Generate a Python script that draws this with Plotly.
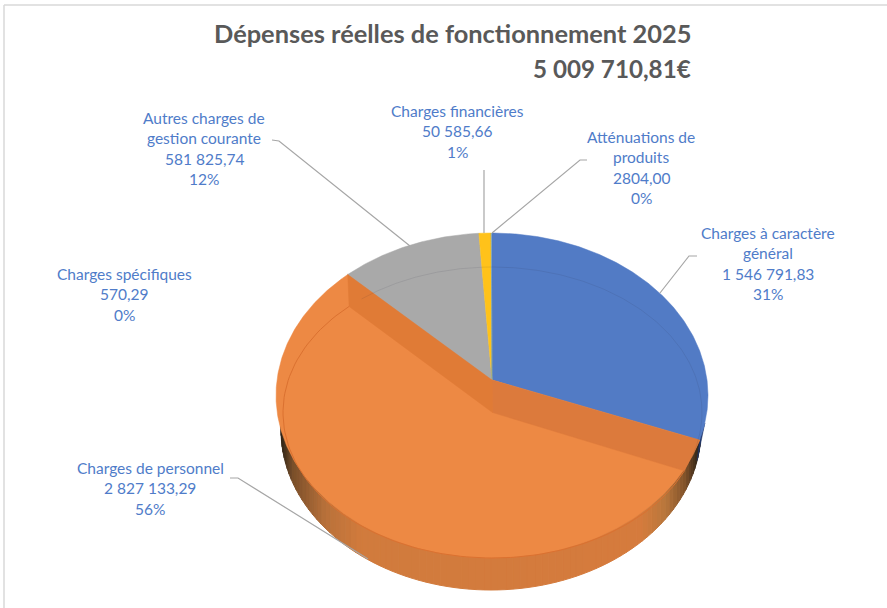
import numpy as np
import plotly.graph_objects as go

# ---- data ----
categories = ["Charges à caractère général", "Charges de personnel", "Charges spécifiques",
              "Autres charges de gestion courante", "Charges financières", "Atténuations de produits"]
values = [1546791.83, 2827133.29, 570.29, 581825.74, 50585.66, 2804.00]
colors = ["#527BC5", "#ED8944", "#A5A5A5", "#A9A9A9", "#FFC21A", "#5B9BD5"]
value_labels = ["1 546 791,83", "2 827 133,29", "570,29", "581 825,74", "50 585,66", "2804,00"]
pct_labels = ["31%", "56%", "0%", "12%", "1%", "0%"]
label_lines = [["Charges à caractère", "général"], ["Charges de personnel"], ["Charges spécifiques"],
               ["Autres charges de", "gestion courante"], ["Charges financières"], ["Atténuations de", "produits"]]

# ---- layout constants (pixels) ----
W, H = 887, 608
CX, CY, A, B, K = 492, 380, 215, 161, 0.0953      # top face, perspective
IX, IY, IA, IB, ITWIST = 492.5, 412.5, 209.5, 145.5, 2.5  # inner face
BX, BY, BA, BB = 491, 430, 210, 160               # bottom edge
label_pos = [(768, 233), (150, 468), (124, 274), (204, 118), (457, 111), (641, 137)]
LH = 20.4
TXT = "#4F7CC9"
FONT = "Lato"

total = sum(values)
edges = np.concatenate([[0], np.cumsum(values)]) / total * 360


def outer(t):
    t = np.radians(t)
    u, v = np.sin(t), np.cos(t)
    d = 1 + K * v
    return CX + A * u / d, CY - B * v / d


def inner(t):
    t = np.radians(t + ITWIST)
    return IX + IA * np.sin(t), IY - IB * np.cos(t)


def poly(xs, ys, color, width=0.5):
    return go.Scatter(x=list(xs), y=list(ys), mode="lines", fill="toself", fillcolor=color,
                      line=dict(color=color, width=width), hoverinfo="skip", showlegend=False)


def arc(fn, a, b, n=120):
    return fn(np.linspace(a, b, n))


fig = go.Figure()

# side wall with shading
stops_x = [281, 292, 325, 360, 640, 665, 685, 698]
stops_c = [(46, 36, 24), (122, 79, 42), (185, 113, 58), (209, 123, 61),
           (214, 124, 61), (185, 119, 60), (128, 82, 42), (46, 36, 24)]
phi = np.radians(np.linspace(0, 180, 91))
for p0, p1 in zip(phi[:-1], phi[1:]):
    x0, x1 = BX + BA * np.cos(p0), BX + BA * np.cos(p1)
    y0, y1 = BY + BB * np.sin(p0), BY + BB * np.sin(p1)
    xm = (x0 + x1) / 2
    c = [int(np.interp(xm, stops_x, [s[i] for s in stops_c])) for i in range(3)]
    col = f"rgb({c[0]},{c[1]},{c[2]})"
    fig.add_trace(poly([x0, x1, x1, x0, x0], [y0, y1, y1 - 45, y0 - 45, y0], col, 1))

# dark blue edge of the first slice, at its lower end
bx0, by0 = outer(edges[1] - 6)
bx1, by1 = outer(edges[1])
sl = np.radians(11)
fig.add_trace(poly([bx0, bx1, BX + BA * np.cos(sl), bx0], [by0, by1, BY + BB * np.sin(sl), by0], "#20376B"))

# wedges on the top level
for i, col in enumerate(colors):
    xs, ys = arc(outer, edges[i], edges[i + 1], max(3, int(edges[i + 1] - edges[i]) * 2))
    fig.add_trace(poly([CX, *xs, CX], [CY, *ys, CY], col))

# darker walls of the sunken slice
a_end, o_end = edges[1], edges[2]
for t, col in [(a_end, "#DC7A3C"), (o_end, "#E07B36")]:
    ox, oy = outer(t)
    ix, iy = inner(t)
    fig.add_trace(poly([CX, ox, ix, IX, CX], [CY, oy, iy, IY, CY], col))

# faint inner arcs
xs, ys = arc(inner, a_end, o_end)
fig.add_trace(go.Scatter(x=xs, y=ys, mode="lines", line=dict(color="#DB7130", width=1),
                         hoverinfo="skip", showlegend=False))
for a0, a1 in [(0 - ITWIST, a_end - ITWIST - 1), (o_end + ITWIST + 2, 360 - ITWIST)]:
    xs, ys = arc(inner, a0, a1)
    fig.add_trace(go.Scatter(x=xs, y=ys, mode="lines", line=dict(color="rgba(40,40,60,0.10)", width=1),
                             hoverinfo="skip", showlegend=False))

# leader lines and frame
leaders = ["M697,256 L689,256 L660,293", "M230,478 L238,478 L368,559", "M272,140 L279,141 L410,246",
           "M484,170 L484,233", "M587,160 L580,160 L492,233"]
shapes = [dict(type="path", path=p, line=dict(color="#A6A6A6", width=1.2), layer="above") for p in leaders]
shapes += [dict(type="line", x0=4, x1=4, y0=5, y1=H, line=dict(color="#D9D9D9", width=1.5), layer="below"),
           dict(type="line", x0=4, x1=W, y0=5, y1=5, line=dict(color="#D9D9D9", width=1.5), layer="below")]

# text labels
annotations = []
for i, (lx, ly) in enumerate(label_pos):
    lines = label_lines[i] + [value_labels[i], pct_labels[i]]
    for j, t in enumerate(lines):
        annotations.append(dict(x=lx, y=ly + j * LH, text=t, showarrow=False, xref="x", yref="y",
                                xanchor="center", yanchor="middle",
                                font=dict(family=FONT, size=15.5, color=TXT)))
for t, y, fs in [("Dépenses réelles de fonctionnement 2025", 33, 25.4), ("5 009 710,81€", 68, 24.2)]:
    annotations.append(dict(x=693, y=y, text=f"<b>{t}</b>", showarrow=False, xref="x", yref="y",
                            xanchor="right", yanchor="middle",
                            font=dict(family=FONT, size=fs, color="#595959")))

fig.update_layout(width=W, height=H, margin=dict(l=0, r=0, t=0, b=0), paper_bgcolor="white",
                  plot_bgcolor="white", showlegend=False, shapes=shapes, annotations=annotations,
                  xaxis=dict(range=[0, W], visible=False, fixedrange=True),
                  yaxis=dict(range=[H, 0], visible=False, fixedrange=True))
fig.write_html("out.html", config=dict(displayModeBar=False),
               post_script="document.body.style.margin='0';document.body.style.overflow='hidden';")
